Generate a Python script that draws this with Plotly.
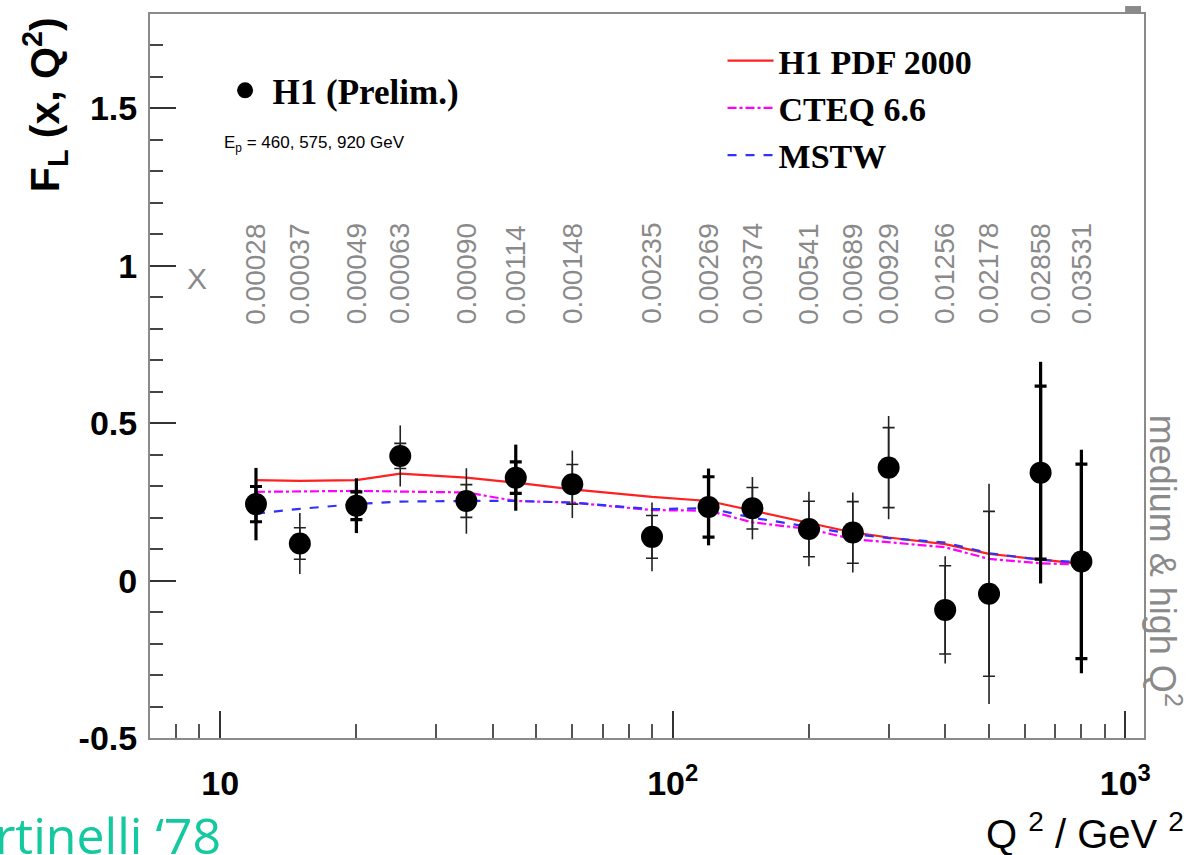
import math
import plotly.graph_objects as go

# ---------------- data ----------------
q2 = [12, 15, 20, 25, 35, 45, 60, 90, 120, 150, 200, 250, 300, 400, 500, 650, 800]
x_bj = ["0.00028", "0.00037", "0.00049", "0.00063", "0.00090", "0.00114", "0.00148",
        "0.00235", "0.00269", "0.00374", "0.00541", "0.00689", "0.00929", "0.01256",
        "0.02178", "0.02858", "0.03531"]
fl = [0.243, 0.118, 0.238, 0.396, 0.253, 0.327, 0.306, 0.139, 0.234, 0.230, 0.164,
      0.153, 0.359, -0.093, -0.042, 0.343, 0.061]
err_inner = [0.056, 0.050, 0.044, 0.040, 0.052, 0.050, 0.063, 0.068, 0.096, 0.066,
             0.088, 0.098, 0.127, 0.140, 0.262, 0.275, 0.309]
err_total = [0.115, 0.097, 0.087, 0.097, 0.104, 0.105, 0.107, 0.109, 0.122, 0.099,
             0.118, 0.127, 0.164, 0.170, 0.350, 0.352, 0.355]
# points drawn with heavy error bars in the original
heavy_idx = [0, 2, 5, 8, 15, 16]

h1pdf = [0.319, 0.317, 0.319, 0.340, 0.327, 0.311, 0.290, 0.266, 0.253, 0.222, 0.182,
         0.153, 0.137, 0.116, 0.085, 0.067, 0.053]
cteq = [0.282, 0.283, 0.285, 0.283, 0.280, 0.253, 0.248, 0.224, 0.222, 0.185, 0.164,
        0.132, 0.121, 0.106, 0.069, 0.055, 0.051]
mstw = [0.213, 0.228, 0.243, 0.251, 0.253, 0.253, 0.248, 0.227, 0.230, 0.200, 0.171,
        0.148, 0.135, 0.121, 0.087, 0.066, 0.058]

y_ticks = [-0.5, 0, 0.5, 1, 1.5]
y_ticktext = ["-0.5", "0", "0.5", "1", "1.5"]
x_ticks = [10, 100, 1000]
x_ticktext = ["10", "10<sup>2</sup>", "10<sup>3</sup>"]
x_minor = [8, 9, 20, 30, 40, 50, 60, 70, 80, 90, 200, 300, 400, 500, 600, 700, 800, 900]

SANS = "Liberation Sans, Arial, sans-serif"
SERIF = "Liberation Serif, Times New Roman, serif"

fig = go.Figure()

# theory curves
fig.add_trace(go.Scatter(x=q2, y=h1pdf, mode="lines", name="H1 PDF 2000",
                         line=dict(color="#ff2020", width=2.2, dash="solid")))
fig.add_trace(go.Scatter(x=q2, y=cteq, mode="lines", name="CTEQ 6.6",
                         line=dict(color="#ff00ff", width=2.2, dash="dashdot")))
fig.add_trace(go.Scatter(x=q2, y=mstw, mode="lines", name="MSTW",
                         line=dict(color="#3030ff", width=2.2, dash="dash")))

groups = [
    ([i for i in range(len(q2)) if i in heavy_idx], 3.2, "#000000"),
    ([i for i in range(len(q2)) if i not in heavy_idx], 1.6, "#222222"),
]
for idx, w, col in groups:
    xs = [q2[i] for i in idx]
    ys = [fl[i] for i in idx]
    fig.add_trace(go.Scatter(
        x=xs, y=ys, mode="markers", showlegend=False, hoverinfo="skip",
        marker=dict(size=1, color="rgba(0,0,0,0)"),
        error_y=dict(type="data", array=[err_total[i] for i in idx],
                     color=col, thickness=w, width=0)))
    fig.add_trace(go.Scatter(
        x=xs, y=ys, mode="markers", showlegend=False, hoverinfo="skip",
        marker=dict(size=1, color="rgba(0,0,0,0)"),
        error_y=dict(type="data", array=[err_inner[i] for i in idx],
                     color=col, thickness=w, width=6)))

fig.add_trace(go.Scatter(x=q2, y=fl, mode="markers", name="H1 (Prelim.)",
                         legend="legend2",
                         marker=dict(size=22, color="black")))

annotations = []
for xv, lab in zip(q2, x_bj):
    annotations.append(dict(x=math.log10(xv), y=0.808, xref="x", yref="y", text=lab,
                            textangle=-90, showarrow=False, xanchor="center",
                            yanchor="bottom",
                            font=dict(family=SANS, size=28, color="#8a8a8a")))

annotations += [
    dict(x=0.047, y=0.634, xref="paper", yref="paper", text="X", showarrow=False,
         xanchor="center", yanchor="middle",
         font=dict(family=SANS, size=30, color="#8a8a8a")),
    dict(x=-0.106, y=0.875, xref="paper", yref="paper",
         text="<b>F<sub>L</sub> (x, Q<sup>2</sup>)</b>", textangle=-90,
         xanchor="center", yanchor="middle",
         showarrow=False, font=dict(family=SANS, size=41, color="black")),
    dict(x=1.042, y=-0.128, xref="paper", yref="paper", xanchor="right",
         yanchor="middle",
         text="Q <sup>2</sup> / GeV <sup>2</sup>", showarrow=False,
         font=dict(family=SANS, size=40, color="black")),
    dict(x=1.022, y=0.245, xref="paper", yref="paper",
         text="medium &amp; high Q<sup>2</sup>",
         textangle=90, showarrow=False, xanchor="center", yanchor="middle",
         font=dict(family=SANS, size=36, color="#8a8a8a")),
    dict(x=0.072, y=0.821, xref="paper", yref="paper", xanchor="left",
         yanchor="middle",
         text="E<sub>p</sub> = 460, 575, 920 GeV", showarrow=False,
         font=dict(family=SANS, size=17, color="black")),
    dict(x=0.073, y=-0.1336, xref="paper", yref="paper", xanchor="right",
         yanchor="middle",
         text="Altarelli, Martinelli \u201878", showarrow=False,
         font=dict(family="Open Sans, sans-serif", size=50, color="#14c8a0")),
]

fig.update_layout(
    width=1187, height=855,
    margin=dict(l=150, r=43, t=12, b=117),
    paper_bgcolor="white", plot_bgcolor="white",
    annotations=annotations,
    shapes=[dict(type="rect", xref="paper", yref="paper", x0=0.981, x1=0.997,
                 y0=1.001, y1=1.011, fillcolor="#8a8a8a", line=dict(width=0))],
    legend=dict(x=0.576, y=0.975, xanchor="left", yanchor="top", itemwidth=46,
                bgcolor="rgba(0,0,0,0)", borderwidth=0, traceorder="normal",
                font=dict(family=SERIF, size=34, color="black", weight="bold")),
    legend2=dict(x=0.068, y=0.935, xanchor="left", yanchor="top", itemwidth=45,
                 bgcolor="rgba(0,0,0,0)", borderwidth=0,
                 font=dict(family=SERIF, size=35, color="black", weight="bold")),
    xaxis=dict(type="log", range=[0.845, 3.0414], showgrid=False, zeroline=False,
               showline=True, linecolor="#8a8a8a", linewidth=2, mirror=True,
               ticks="inside", ticklen=27, tickwidth=2, tickcolor="#333333",
               tickvals=x_ticks, ticktext=x_ticktext, ticklabelstandoff=14,
               tickfont=dict(family=SANS, size=34, color="black", weight="bold"),
               minor=dict(tickvals=x_minor, ticks="inside", ticklen=14,
                          tickwidth=2, tickcolor="#555555", showgrid=False)),
    yaxis=dict(range=[-0.5, 1.8], showgrid=False, zeroline=False,
               showline=True, linecolor="#8a8a8a", linewidth=2, mirror=True,
               ticks="inside", ticklen=26, tickwidth=2, tickcolor="#333333",
               tickvals=y_ticks, ticktext=y_ticktext, ticklabelstandoff=4,
               tickfont=dict(family=SANS, size=34, color="black", weight="bold"),
               minor=dict(dtick=0.1, ticks="inside", ticklen=13, tickwidth=2,
                          tickcolor="#444444", showgrid=False)),
)

fig.write_html("out.html")
